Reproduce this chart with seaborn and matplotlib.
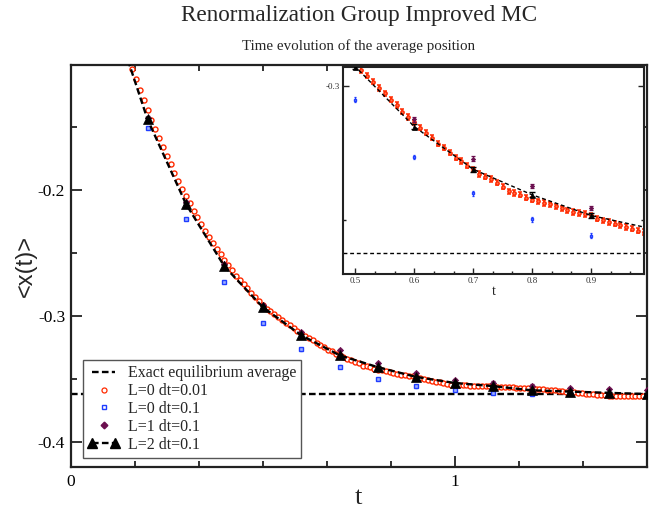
import numpy as np
import pandas as pd
import matplotlib
matplotlib.use("Agg")
import matplotlib.pyplot as plt
import seaborn as sns
from matplotlib.lines import Line2D
from matplotlib.legend_handler import HandlerLine2D
from matplotlib.ticker import MultipleLocator, FormatStrFormatter

# ---------------- data ----------------
title = "Renormalization Group Improved MC"
subtitle = "Time evolution of the average position"
x_label = "t"
y_label = "<x(t)>"
legend_labels = ["Exact equilibrium average", "L=0 dt=0.01", "L=0 dt=0.1",
                 "L=1 dt=0.1", "L=2 dt=0.1"]

exact_eq = -0.3622

# coarse time grid (dt = 0.1)
t_coarse = [0.1, 0.2, 0.3, 0.4, 0.5, 0.6, 0.7, 0.8, 0.9, 1.0, 1.1, 1.2, 1.3, 1.4, 1.5]
l0_dt01 = [-0.0580, -0.1506, -0.2233, -0.2733, -0.3053, -0.3266, -0.3401, -0.3498,
           -0.3559, -0.3590, -0.3610, -0.3619, -0.3620, -0.3630, -0.3627]
l1_dt01 = [-0.0480, -0.1425, -0.2095, -0.2590, -0.2913, -0.3126, -0.3272, -0.3374,
           -0.3456, -0.3508, -0.3528, -0.3552, -0.3569, -0.3578, -0.3587]
l2_dt01 = [-0.0520, -0.1439, -0.2111, -0.2606, -0.2930, -0.3153, -0.3312, -0.3407,
           -0.3484, -0.3532, -0.3557, -0.3590, -0.3600, -0.3610, -0.3620]

# fine time grid (dt = 0.01), t = 0.16 ... 1.50
t_fine = np.arange(16, 151) / 100.0
l0_dt001 = [
    -0.1042, -0.1121, -0.1204, -0.1286, -0.1365, -0.1442, -0.1517, -0.1590, -0.1660, -0.1729,
    -0.1796, -0.1862, -0.1925, -0.1989, -0.2050, -0.2106, -0.2163, -0.2217, -0.2270, -0.2322,
    -0.2372, -0.2420, -0.2467, -0.2512, -0.2555, -0.2597, -0.2639, -0.2679, -0.2714, -0.2748,
    -0.2781, -0.2815, -0.2847, -0.2880, -0.2912, -0.2942, -0.2963, -0.2986, -0.3009, -0.3029,
    -0.3053, -0.3073, -0.3097, -0.3117, -0.3137, -0.3157, -0.3175, -0.3194, -0.3216, -0.3231,
    -0.3250, -0.3269, -0.3281, -0.3298, -0.3312, -0.3329, -0.3340, -0.3348, -0.3362, -0.3377,
    -0.3394, -0.3400, -0.3406, -0.3418, -0.3425, -0.3431, -0.3437, -0.3443, -0.3450, -0.3458,
    -0.3465, -0.3471, -0.3475, -0.3478, -0.3484, -0.3496, -0.3502, -0.3508, -0.3515, -0.3521,
    -0.3527, -0.3533, -0.3540, -0.3546, -0.3545, -0.3547, -0.3549, -0.3550, -0.3552, -0.3553,
    -0.3555, -0.3556, -0.3557, -0.3558, -0.3559, -0.3561, -0.3562, -0.3563, -0.3565, -0.3566,
    -0.3568, -0.3570, -0.3572, -0.3574, -0.3576, -0.3578, -0.3581, -0.3583, -0.3586, -0.3588,
    -0.3591, -0.3594, -0.3597, -0.3600, -0.3603, -0.3606, -0.3610, -0.3613, -0.3617, -0.3620,
    -0.3623, -0.3626, -0.3628, -0.3631, -0.3632, -0.3634, -0.3635, -0.3636, -0.3636, -0.3637,
    -0.3636, -0.3636, -0.3635, -0.3634, -0.3633,
]

err_l0_dt001 = 0.0010
err_l0_dt01 = 0.0009
err_l1_dt01 = 0.0009
err_l2_dt01 = 0.0010

# ---------------- style ----------------
sns.set_style("ticks")
plt.rcParams["font.family"] = ["Liberation Serif", "DejaVu Serif"]
plt.rcParams["axes.unicode_minus"] = False

RED = "#ff2a00"
BLUE = "#1f3dff"
PURPLE = "#6b0f4f"
BLACK = "#000000"

fine_df = pd.DataFrame({"t": t_fine, "x": l0_dt001})
coarse_df = pd.DataFrame({"t": t_coarse, "l0": l0_dt01, "l1": l1_dt01, "l2": l2_dt01})

fig = plt.figure(figsize=(6.64, 5.08), dpi=100)
ax = fig.add_axes([70.7 / 664, 1 - 467.3 / 508, 576.3 / 664, 402.3 / 508])
axin = fig.add_axes([343 / 664, 1 - 274 / 508, 301 / 664, 207 / 508])


def draw(a, small):
    lw_dash = 1.0 if small else 1.7
    dash = (0, (2.8, 2.0)) if small else (0, (2.8, 1.4))
    a.axhline(exact_eq, color=BLACK, lw=lw_dash, linestyle=dash, zorder=1)
    # L=0 dt=0.01
    a.errorbar(fine_df["t"], fine_df["x"], yerr=err_l0_dt001, fmt="none", ecolor=RED,
               elinewidth=1.3 if small else 0.7, capsize=1.4 if small else 1.0,
               capthick=1.1 if small else 0.7, zorder=2)
    sns.lineplot(data=fine_df, x="t", y="x", ax=a, marker="o", linestyle="none",
                 markersize=3.6 if not small else 2.4,
                 markerfacecolor="white" if not small else "#ff7050",
                 markeredgecolor=RED, markeredgewidth=1.0, color=RED,
                 errorbar=None, sort=False, zorder=2)
    # L=0 dt=0.1
    a.errorbar(coarse_df["t"], coarse_df["l0"], yerr=err_l0_dt01, fmt="none", ecolor=BLUE,
               elinewidth=0.9, capsize=1.0, capthick=0.9, zorder=3)
    sns.lineplot(data=coarse_df, x="t", y="l0", ax=a, marker="s", linestyle="none",
                 markersize=3.4 if not small else 2.0, markerfacecolor="#9fb0ff",
                 markeredgecolor=BLUE, markeredgewidth=1.0, color=BLUE,
                 errorbar=None, sort=False, zorder=3)
    # L=1 dt=0.1
    a.errorbar(coarse_df["t"], coarse_df["l1"], yerr=err_l1_dt01, fmt="none", ecolor=PURPLE,
               elinewidth=0.9, capsize=1.2, capthick=0.9, zorder=4)
    sns.lineplot(data=coarse_df, x="t", y="l1", ax=a, marker="D", linestyle="none",
                 markersize=3.2 if not small else 2.2, markerfacecolor=PURPLE,
                 markeredgecolor=PURPLE, markeredgewidth=0.5, color=PURPLE,
                 errorbar=None, sort=False, zorder=4)
    # L=2 dt=0.1
    a.errorbar(coarse_df["t"], coarse_df["l2"], yerr=err_l2_dt01, fmt="none", ecolor=BLACK,
               elinewidth=1.0, capsize=2.2 if small else 2.0, capthick=1.0, zorder=5)
    sns.lineplot(data=coarse_df, x="t", y="l2", ax=a, marker="^", linestyle=dash,
                 linewidth=lw_dash, markersize=7.2 if not small else 3.6,
                 markerfacecolor=BLACK, markeredgecolor=BLACK, markeredgewidth=0.5,
                 color=BLACK, errorbar=None, sort=False, zorder=5)


draw(ax, False)
draw(axin, True)

# ---------------- main axes ----------------
ax.set_xlim(0, 1.5)
ax.set_ylim(-0.4201, -0.1008)
ax.xaxis.set_major_locator(MultipleLocator(1))
ax.xaxis.set_minor_locator(MultipleLocator(1 / 6))
ax.yaxis.set_major_locator(MultipleLocator(0.1))
ax.yaxis.set_minor_locator(MultipleLocator(0.05))
ax.xaxis.set_major_formatter(FormatStrFormatter("%g"))
ax.yaxis.set_major_formatter(FormatStrFormatter("%.1f"))
ax.tick_params(which="both", direction="in", top=True, right=True, width=1.3,
               colors="#222222", labelcolor="black")
ax.tick_params(which="major", length=8)
ax.tick_params(which="minor", length=4)
ax.tick_params(axis="y", which="major", labelsize=12.5, pad=4)
ax.tick_params(axis="x", which="major", labelsize=12.5, pad=5)
for sp in ax.spines.values():
    sp.set_linewidth(1.6)
    sp.set_color("#222222")
ax.set_xlabel(x_label, fontsize=19, labelpad=-2)
ax.set_ylabel(y_label, fontsize=17, family=["Liberation Sans", "DejaVu Sans"], labelpad=1)

handles = [
    Line2D([], [], color=BLACK, lw=1.7, linestyle=(0, (2.8, 1.4))),
    Line2D([], [], marker="o", linestyle="none", markersize=3.6, markerfacecolor="white",
           markeredgecolor=RED, markeredgewidth=0.9),
    Line2D([], [], marker="s", linestyle="none", markersize=3.4, markerfacecolor="white",
           markeredgecolor=BLUE, markeredgewidth=1.0),
    Line2D([], [], marker="D", linestyle="none", markersize=3.4, markerfacecolor=PURPLE,
           markeredgecolor=PURPLE),
    Line2D([], [], marker="^", color=BLACK, lw=1.7, linestyle=(0, (2.8, 1.4)),
           markersize=7.2),
]
single = HandlerLine2D(numpoints=1)
leg = ax.legend(handles, legend_labels, loc="lower left", bbox_to_anchor=(0.021, 0.024),
                borderaxespad=0, fancybox=False, framealpha=1, edgecolor="#555555",
                fontsize=11.5, handlelength=2.0, handletextpad=0.5, borderpad=0.3,
                labelspacing=0.12, numpoints=2,
                handler_map={handles[1]: single, handles[2]: single, handles[3]: single})
leg.get_frame().set_linewidth(1.0)
leg.set_zorder(10)

# ---------------- inset ----------------
axin.set_facecolor("white")
axin.set_xlim(0.479, 0.99)
axin.set_ylim(-0.3702, -0.2931)
axin.xaxis.set_major_locator(MultipleLocator(0.1))
axin.xaxis.set_minor_locator(MultipleLocator(0.1 / 3))
axin.yaxis.set_major_locator(MultipleLocator(0.1))
axin.yaxis.set_minor_locator(MultipleLocator(0.05))
axin.xaxis.set_major_formatter(FormatStrFormatter("%.1f"))
axin.yaxis.set_major_formatter(FormatStrFormatter("%.1f"))
axin.tick_params(which="both", direction="in", top=False, right=True, width=1.0,
                 labelsize=6.5, colors="#222222", labelcolor="#333333")
axin.tick_params(which="major", length=4.5, pad=2)
axin.tick_params(which="minor", length=2.5)
for sp in axin.spines.values():
    sp.set_linewidth(1.5)
    sp.set_color("#222222")
axin.set_xlabel(x_label, fontsize=10, labelpad=0)
axin.set_ylabel("")

fig.text(358.8 / 664, 1 - 20.7 / 508, title, ha="center", va="baseline", fontsize=16.7)
fig.text(358.8 / 664, 1 - 50 / 508, subtitle, ha="center", va="baseline", fontsize=10.8)

fig.savefig("out.png", dpi=100)
